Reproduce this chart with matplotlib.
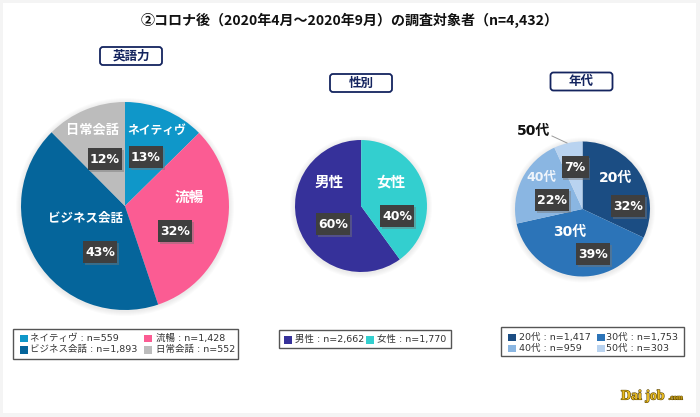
import matplotlib
matplotlib.use('Agg')
import matplotlib.pyplot as plt
import matplotlib.patheffects as pe
from matplotlib.patches import Rectangle, FancyBboxPatch, Circle

plt.rcParams['font.family'] = ['Noto Sans CJK JP', 'DejaVu Sans']
LATIN_FIRST = ['DejaVu Sans', 'Noto Sans CJK JP']

# data
skill_labels = ['ネイティヴ', '流暢', 'ビジネス会話', '日常会話']
skill_n = [559, 1428, 1893, 552]
skill_pct = ['13%', '32%', '43%', '12%']
skill_colors = ['#0f97c9', '#fb5c93', '#05659b', '#bcbcbc']

gender_labels = ['男性', '女性']
gender_n = [2662, 1770]
gender_pct = ['60%', '40%']
gender_colors = ['#36319a', '#33cfcf']

age_labels = ['20代', '30代', '40代', '50代']
age_n = [1417, 1753, 959, 303]
age_pct = ['32%', '39%', '22%', '7%']
age_colors = ['#1b4d83', '#2c74b8', '#8ab6e2', '#b9d3f0']

W, H = 700, 417
fig = plt.figure(figsize=(7, 4.17), dpi=100, facecolor='#f4f4f4')
ax = fig.add_axes([0, 0, 1, 1])


def Y(py):
    return H - py


def draw_pie(values, colors, cx, cy, r, start=90):
    # soft shadow
    for i in range(5):
        ax.add_patch(Circle((cx, Y(cy + 1)), r + 5 - i, fc='#888888', ec='none', alpha=0.03, zorder=1))
    ax.pie(values, colors=colors, startangle=start, counterclock=False,
           center=(cx, Y(cy)), radius=r, frame=True,
           wedgeprops={'linewidth': 0, 'zorder': 2})


def cat_label(x, y, s, size=10, color='white'):
    ax.text(x, Y(y), s, ha='center', va='center', fontsize=size, color=color,
            fontweight='bold', family=LATIN_FIRST, zorder=5)


def pct_label(x, y, s, w=34):
    ax.add_patch(Rectangle((x - w / 2 + 1.5, Y(y + 12.5)), w, 22, fc='#777777', ec='none', alpha=0.45, zorder=4))
    ax.add_patch(Rectangle((x - w / 2, Y(y + 11)), w, 22, fc='#3f3f3f', ec='none', zorder=5))
    ax.text(x, Y(y), s, ha='center', va='center', fontsize=9, color='white', fontweight='bold',
            family='DejaVu Sans', zorder=6)


def heading(x, y, w, s):
    ax.add_patch(FancyBboxPatch((x - w / 2, Y(y + 9)), w, 18,
                                boxstyle='round,pad=0,rounding_size=3',
                                fc='white', ec='#14245f', lw=1.3, zorder=3))
    ax.text(x, Y(y), s, ha='center', va='center', fontsize=9, fontweight='bold', color='#14245f', zorder=4)


def legend_box(x0, y0, x1, y1, rows):
    ax.add_patch(Rectangle((x0, Y(y1)), x1 - x0, y1 - y0, fc='white', ec='#555555', lw=1, zorder=3))
    for sx, tx, ty, c, s in rows:
        ax.add_patch(Rectangle((sx, Y(ty + 4)), 7.5, 7.5, fc=c, ec='none', zorder=4))
        ax.text(tx, Y(ty), s, ha='left', va='center', fontsize=6.8, color='#333333',
                family=LATIN_FIRST, zorder=4)


def n_text(label, n):
    return f'{label} : n={n:,}'


ax.add_patch(Rectangle((3, Y(413)), 693, 410, fc='white', ec='none', zorder=0))

ax.text(350, Y(20), '②コロナ後（2020年4月～2020年9月）の調査対象者（n=4,432）', ha='center', va='center',
        fontsize=10.1, fontweight='bold', color='#111111')

heading(131, 56, 62, '英語力')
heading(361, 83, 62, '性別')
heading(581.5, 81.5, 62, '年代')

# 英語力
draw_pie(skill_n, skill_colors, 125, 206, 104)
cat_label(157, 130, skill_labels[0], size=8.5)
cat_label(189, 197, skill_labels[1], size=10.5)
cat_label(86, 218, skill_labels[2], size=9)
cat_label(92, 130, skill_labels[3], size=9.5)
pct_label(146, 157, skill_pct[0])
pct_label(175, 231, skill_pct[1])
pct_label(100, 252, skill_pct[2])
pct_label(105, 159, skill_pct[3])

# 性別 (男性 is drawn first but ends at the top, so it starts at -54 deg)
draw_pie(gender_n, gender_colors, 361, 206, 66, start=-54)
cat_label(329, 182, gender_labels[0], size=10.5)
cat_label(391, 182, gender_labels[1], size=10.5)
pct_label(333, 224, gender_pct[0])
pct_label(397, 216, gender_pct[1])

# 年代
draw_pie(age_n, age_colors, 582.5, 209, 67.5)
cat_label(615, 178, age_labels[0], size=10)
cat_label(570, 232, age_labels[1], size=10)
cat_label(541, 177, age_labels[2], size=9, color='#eef4fb')
cat_label(533, 131, age_labels[3], size=10, color='#111111')
ax.plot([552, 567], [Y(136), Y(143)], color='#999999', lw=0.7, zorder=5)
pct_label(628, 206, age_pct[0])
pct_label(593, 254, age_pct[1])
pct_label(552, 200, age_pct[2])
pct_label(575, 167, age_pct[3], w=27)

# legends
legend_box(12.5, 329, 238, 359, [
    (20, 30, 338, skill_colors[0], n_text(skill_labels[0], skill_n[0])),
    (144, 156, 338, skill_colors[1], n_text(skill_labels[1], skill_n[1])),
    (20, 30, 349.5, skill_colors[2], n_text(skill_labels[2], skill_n[2])),
    (144, 156, 349.5, skill_colors[3], n_text(skill_labels[3], skill_n[3])),
])
legend_box(279, 330, 451, 348, [
    (284, 295, 339.5, gender_colors[0], n_text(gender_labels[0], gender_n[0])),
    (366, 377, 339.5, gender_colors[1], n_text(gender_labels[1], gender_n[1])),
])
legend_box(501, 327, 684, 356, [
    (508, 519, 337, age_colors[0], n_text(age_labels[0], age_n[0])),
    (597, 606, 337, age_colors[1], n_text(age_labels[1], age_n[1])),
    (508, 519, 348, age_colors[2], n_text(age_labels[2], age_n[2])),
    (597, 606, 348, age_colors[3], n_text(age_labels[3], age_n[3])),
])

# watermark
mark_fx = [pe.withStroke(linewidth=0.8, foreground='#5a4400')]
ax.text(621, Y(396), 'Dai job', ha='left', va='center', fontsize=10, fontweight='bold',
        family='Liberation Serif', color='#e8bb22', zorder=5, path_effects=mark_fx)
ax.text(683, Y(398), '.com', ha='right', va='center', fontsize=5, fontweight='bold',
        family='Liberation Serif', color='#e8bb22', zorder=5, path_effects=mark_fx)

ax.set_xlim(0, W)
ax.set_ylim(0, H)
ax.set_aspect('auto')
ax.axis('off')

fig.savefig('out.png', dpi=100, facecolor=fig.get_facecolor())
